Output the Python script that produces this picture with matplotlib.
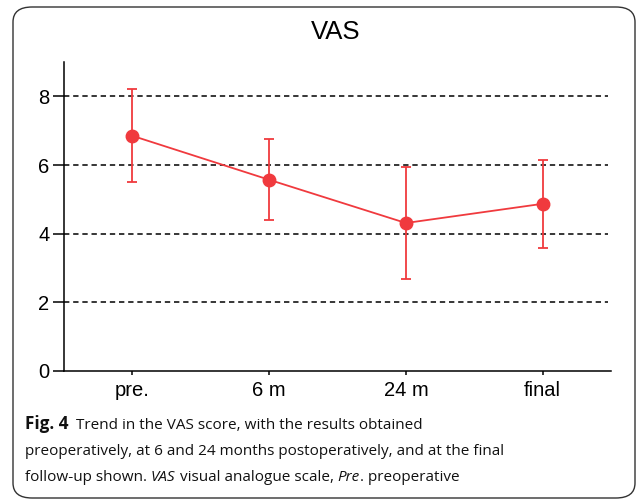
import matplotlib.pyplot as plt
from matplotlib.patches import FancyBboxPatch

categories = ['pre.', '6 m', '24 m', 'final']
vas_mean = [6.85, 5.57, 4.31, 4.87]
vas_sd = [1.35, 1.18, 1.62, 1.28]
y_ticks = [0, 2, 4, 6, 8]

# (text, weight, style, size)
caption_lines = [
    [('Fig. 4', 'bold', 'normal', 12.3), ('  Trend in the VAS score, with the results obtained', 'normal', 'normal', 11.0)],
    [('preoperatively, at 6 and 24 months postoperatively, and at the final', 'normal', 'normal', 11.0)],
    [('follow-up shown. ', 'normal', 'normal', 11.0), ('VAS', 'normal', 'italic', 11.0),
     (' visual analogue scale, ', 'normal', 'normal', 11.0), ('Pre', 'normal', 'italic', 11.0),
     ('. preoperative', 'normal', 'normal', 11.0)],
]

RED = '#f03a3e'

fig = plt.figure(figsize=(6.38, 4.99), dpi=100)

# rounded frame around figure + caption
frame = FancyBboxPatch((13 / 638, 1 / 499), 622 / 638, 491 / 499,
                       boxstyle='round,pad=0,rounding_size=0.03',
                       transform=fig.transFigure, fill=False,
                       edgecolor='#333333', linewidth=1.0)
fig.patches.append(frame)

ax = fig.add_axes([64 / 638, 128 / 499, 547 / 638, 309 / 499])
x = list(range(len(categories)))

for v in y_ticks[1:]:
    ax.axhline(v, xmax=0.995, color='black', linestyle=(0, (3.5, 2.5)), linewidth=1.1, zorder=1)

ax.errorbar(x, vas_mean, yerr=vas_sd, color=RED, marker='o', markersize=9,
            linewidth=1.3, elinewidth=1.3, capsize=3.8, capthick=1.3, zorder=3)

ax.set_xlim(-0.5, 3.5)
ax.set_ylim(0, 9)
ax.set_xticks(x)
ax.set_xticklabels(categories)
ax.set_yticks(y_ticks)

for side in ['top', 'right']:
    ax.spines[side].set_visible(False)
for side in ['left', 'bottom']:
    ax.spines[side].set_linewidth(1.1)

ax.tick_params(axis='y', length=8, width=1.1, labelsize=14.5, pad=2.5)
ax.tick_params(axis='x', length=3, width=1.1, labelsize=14.5, pad=4)
for lbl in ax.get_xticklabels() + ax.get_yticklabels():
    lbl.set_fontfamily('Liberation Sans')

fig.text(336 / 638, 1 - 32 / 499, 'VAS', ha='center', va='center',
         fontsize=18.5, family='Liberation Sans')

# caption with mixed bold / italic runs
fig.canvas.draw()
renderer = fig.canvas.get_renderer()
line_y = [429, 455, 481]
for runs, py in zip(caption_lines, line_y):
    px = 25
    for txt, weight, style, size in runs:
        t = fig.text(px / 638, 1 - py / 499, txt, ha='left', va='baseline',
                     fontsize=size, family='Open Sans', weight=weight,
                     style=style, color='#111111')
        bb = t.get_window_extent(renderer)
        px += bb.width

fig.savefig('out.png', dpi=100)
